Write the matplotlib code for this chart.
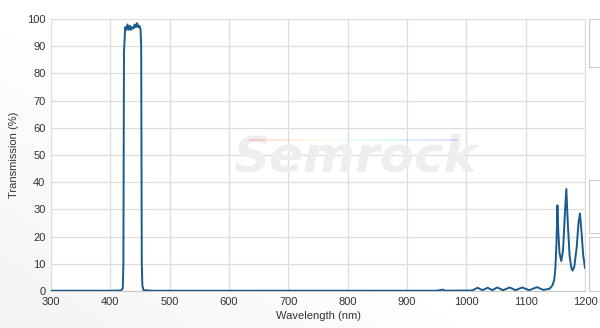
import numpy as np
import matplotlib
matplotlib.use('Agg')
import matplotlib.pyplot as plt
from matplotlib.patches import Rectangle
from matplotlib.collections import LineCollection

plt.rcParams['font.family'] = ['Liberation Sans', 'DejaVu Sans']

# Valores (comprimento de onda em nm, transmissão em %)
wavelength = [300, 400, 418, 421, 422, 422.5, 423, 424, 425, 427, 429, 431, 433,
              435, 437, 439, 441, 443, 445, 447, 449, 451, 452, 452.5, 453, 454,
              456, 470, 950, 960, 965, 1010, 1019, 1027, 1036, 1044, 1052, 1062,
              1073, 1083, 1094, 1106, 1119, 1130, 1140, 1145, 1148, 1150, 1152,
              1153.5, 1155, 1157, 1160, 1163, 1166, 1168.5, 1171, 1174, 1177,
              1179, 1182, 1186, 1189, 1191.5, 1194, 1197, 1200]
transmission = [0.1, 0.1, 0.2, 1, 10, 50, 88, 92, 97, 96, 98, 96, 97.5,
                96, 97, 96.5, 98, 97, 98.5, 97, 97.5, 96, 90, 50, 10, 2,
                0.3, 0.1, 0.1, 0.5, 0.1, 0.2, 1.2, 0.3, 1.2, 0.3, 1.3, 0.3,
                1.3, 0.3, 1.3, 0.3, 1.4, 0.4, 0.8, 2, 4, 8, 18,
                31.5, 22, 14, 11, 15, 28, 37.5, 25, 13, 8.5,
                7.5, 9, 16, 25, 28.5, 22, 13, 8.5]

x_ticks = [300, 400, 500, 600, 700, 800, 900, 1000, 1100, 1200]
y_ticks = [0, 10, 20, 30, 40, 50, 60, 70, 80, 90, 100]

fig = plt.figure(figsize=(6, 3.28), dpi=100, facecolor='white')

# Fundo com gradiente suave
bg = fig.add_axes([0, 0, 1, 1], zorder=-10)
gx = np.linspace(0, 1, 200)
gy = np.linspace(0, 1, 100)
GX, GY = np.meshgrid(gx, gy)
grad = np.clip(0.95 + 0.06 * GX + 0.05 * GY, 0, 1)
bg.imshow(grad, cmap='gray', vmin=0, vmax=1, aspect='auto', origin='lower',
          extent=[0, 1, 0, 1])
bg.axis('off')

# Painéis cortados à direita
for y0, h in [(1 - 67 / 328, 48 / 328), (1 - 233 / 328, 53 / 328),
              (1 - 291 / 328, 54 / 328)]:
    fig.patches.append(Rectangle((589 / 600, y0), 0.05, h, transform=fig.transFigure,
                                 facecolor='white', edgecolor='#cccccc', lw=0.8))

ax = fig.add_axes([51 / 600, 1 - 291 / 328, 534 / 600, 272 / 328])
ax.set_facecolor('white')

# Marca d'água
ax.text(0.57, 0.49, 'Semrock', transform=ax.transAxes, fontsize=36,
        fontweight='bold', style='italic', color='#eeeeee', ha='center',
        va='center', zorder=1, family='DejaVu Sans')
xs = np.linspace(0.37, 0.76, 60)
pts = np.array([xs, np.full_like(xs, 0.555)]).T.reshape(-1, 1, 2)
segs = np.concatenate([pts[:-1], pts[1:]], axis=1)
lc = LineCollection(segs, cmap='rainbow', transform=ax.transAxes, lw=1.5,
                    alpha=0.15, zorder=1)
lc.set_array(np.linspace(1, 0, len(segs)))
ax.add_collection(lc)

ax.plot(wavelength, transmission, color='#1b5a8c', lw=1.4, zorder=3)

ax.set_xlim(300, 1200)
ax.set_ylim(0, 100)
ax.set_xticks(x_ticks)
ax.set_yticks(y_ticks)
ax.grid(True, color='#dddddd', lw=0.9)
ax.set_axisbelow(True)
for s in ax.spines.values():
    s.set_color('#dddddd')
ax.spines['bottom'].set_color('#c8c8c8')
ax.tick_params(length=0, labelsize=8, labelcolor='#333333', pad=4)
ax.set_xlabel('Wavelength (nm)', fontsize=8, color='#333333', labelpad=3)
ax.set_ylabel('Transmission (%)', fontsize=8, color='#333333', labelpad=6)

fig.savefig('out.png', dpi=100, facecolor=fig.get_facecolor())
